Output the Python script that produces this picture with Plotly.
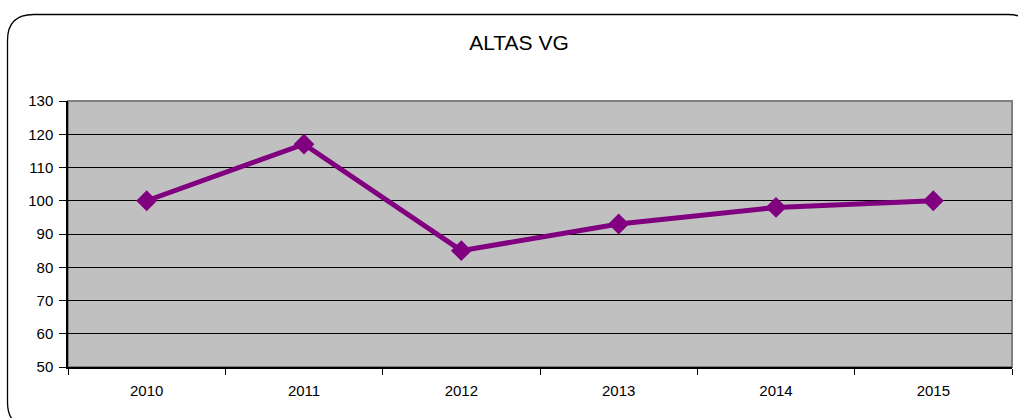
import plotly.graph_objects as go

years = ["2010", "2011", "2012", "2013", "2014", "2015"]
altas = [100, 117, 85, 93, 98, 100]
y_ticks = [50, 60, 70, 80, 90, 100, 110, 120, 130]

W, H = 1018, 418
L, R, T, B = 68, 6, 101, 51
pw, ph = W - L - R, H - T - B

def px(x):
    return (x - L) / pw

def py(y):
    return 1 - (y - T) / ph

fig = go.Figure()
fig.add_trace(go.Scatter(
    x=years, y=altas, mode="lines+markers",
    line=dict(color="#800080", width=5),
    marker=dict(symbol="diamond", size=16, color="#800080"),
    showlegend=False, cliponaxis=False,
))

# rounded outer frame
x0, x1, y0, y1, r = 7.5, 1034, 14.5, 428, 26
path = (f"M {px(x0)},{py(y0 + r)} "
        f"Q {px(x0)},{py(y0)} {px(x0 + r)},{py(y0)} "
        f"L {px(x1 - r)},{py(y0)} "
        f"Q {px(x1)},{py(y0)} {px(x1)},{py(y0 + r)} "
        f"L {px(x1)},{py(y1 - r)} "
        f"Q {px(x1)},{py(y1)} {px(x1 - r)},{py(y1)} "
        f"L {px(x0 + r)},{py(y1)} "
        f"Q {px(x0)},{py(y1)} {px(x0)},{py(y1 - r)} Z")
fig.add_shape(type="path", xref="paper", yref="paper", path=path,
              line=dict(color="black", width=1.3), layer="below")

# plot area frame (gray top/right)
fig.add_shape(type="rect", xref="paper", yref="paper", x0=0, x1=1, y0=0, y1=1,
              line=dict(color="#808080", width=2), layer="below")

fig.update_layout(
    width=W, height=H,
    margin=dict(l=L, r=R, t=T, b=B),
    paper_bgcolor="white",
    plot_bgcolor="#C0C0C0",
    font=dict(family="Liberation Sans, Arial, sans-serif", size=15, color="black"),
    title=dict(text="ALTAS VG", x=519 / W, xref="container", xanchor="center",
               y=1 - 43 / H, yanchor="middle",
               font=dict(size=21, color="black")),
)
fig.update_xaxes(
    type="category", tickson="boundaries", ticks="outside", ticklen=6,
    tickcolor="black", showline=True, linecolor="black", linewidth=1.5,
    showgrid=False, zeroline=False, range=[-0.5, 5.5],
    ticklabelstandoff=9,
)
fig.update_yaxes(
    range=[50, 130], tickvals=y_ticks, ticks="outside", ticklen=7,
    tickcolor="black", showline=True, linecolor="black", linewidth=1.5,
    showgrid=True, gridcolor="black", gridwidth=1, zeroline=False,
    ticklabelstandoff=3,
)
fig.write_html("out.html", config={"displayModeBar": False},
               post_script="document.body.style.margin='0';document.body.style.overflow='hidden';")
